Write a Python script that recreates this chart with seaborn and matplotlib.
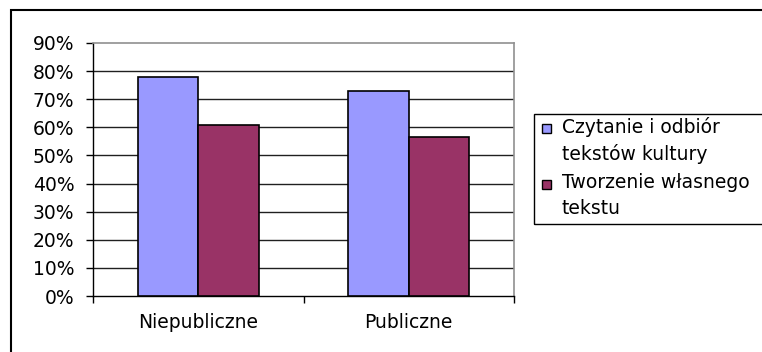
import matplotlib
matplotlib.use("Agg")
import matplotlib.pyplot as plt
import seaborn as sns
import pandas as pd
from matplotlib.patches import Rectangle
from matplotlib.ticker import FixedLocator, PercentFormatter

categories = ["Niepubliczne", "Publiczne"]
series_names = ["Czytanie i odbiór\ntekstów kultury", "Tworzenie własnego\ntekstu"]
reading = [78, 73]
writing = [60.7, 56.5]
colors = ["#9999FF", "#993366"]

df = pd.DataFrame({
    "szkoła": categories * 2,
    "seria": [series_names[0]] * 2 + [series_names[1]] * 2,
    "wynik": reading + writing,
})

sns.set_style("white")
plt.rcParams["font.family"] = ["DejaVu Sans"]
plt.rcParams["text.color"] = "black"
plt.rcParams["xtick.color"] = "black"
plt.rcParams["ytick.color"] = "black"
FS = 13.5

W, H = 762, 352
fig = plt.figure(figsize=(W / 100, H / 100), dpi=100)
ax = fig.add_axes([93 / W, 1 - 296 / H, (514 - 93) / W, (296 - 43) / H])

sns.barplot(data=df, x="szkoła", y="wynik", hue="seria", order=categories,
            hue_order=series_names, palette=colors, width=0.575, gap=0,
            edgecolor="black", linewidth=1.2, saturation=1, ax=ax, zorder=3,
            legend=False)

ax.set_xlim(-0.5, 1.5)
ax.set_ylim(0, 90)
ax.set_yticks(range(0, 91, 10))
ax.yaxis.set_major_formatter(PercentFormatter(decimals=0))
ax.set_xlabel("")
ax.set_ylabel("")

# horizontal grid lines
for v in range(10, 90, 10):
    ax.axhline(v, color="#202020", lw=1.0, zorder=1)

for side in ["top", "right"]:
    ax.spines[side].set_visible(True)
    ax.spines[side].set_color("#909090")
    ax.spines[side].set_linewidth(1.2)
for side in ["left", "bottom"]:
    ax.spines[side].set_color("black")
    ax.spines[side].set_linewidth(1.0)

ax.tick_params(axis="y", which="major", direction="out", length=5, width=1,
               color="black", labelcolor="black", left=True, pad=8.5, labelsize=FS)
ax.tick_params(axis="x", which="major", length=0, pad=12, labelsize=FS,
               labelcolor="black")
ax.xaxis.set_minor_locator(FixedLocator([-0.5, 0.5, 1.5]))
ax.tick_params(axis="x", which="minor", direction="out", length=5, width=1,
               color="black", bottom=True)

# legend box with square keys aligned to the first line of each label
def fx(px):
    return px / W

def fy(py):
    return 1 - py / H

fig.patches.append(Rectangle((fx(533.5), fy(224)), fx(240), (224 - 113.5) / H,
                             transform=fig.transFigure, fill=False,
                             edgecolor="black", lw=1.0))
entry_tops = [128, 184]
for name, col, yc in zip(series_names, colors, entry_tops):
    fig.patches.append(Rectangle((fx(542), fy(yc + 5)), fx(8.5), 9.5 / H,
                                 transform=fig.transFigure, facecolor=col,
                                 edgecolor="black", lw=1.0))
    fig.text(fx(562), fy(yc - 10.5), name, fontsize=FS, va="top", ha="left",
             linespacing=1.4, color="black")

# outer chart frame
fig.patches.append(Rectangle((10.5 / W, -0.1), 1.2, 1 - 10.5 / H + 0.1,
                             transform=fig.transFigure, fill=False,
                             edgecolor="black", lw=1.5))

fig.savefig("out.png", dpi=100)
